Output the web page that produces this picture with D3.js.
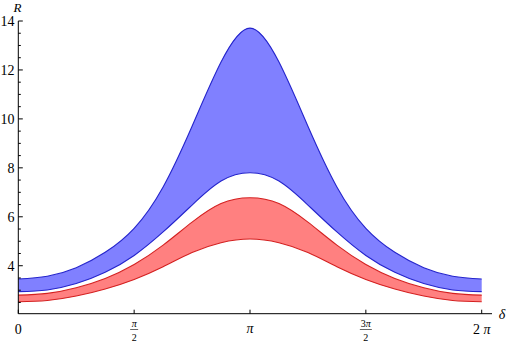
<!DOCTYPE html>
<html>
<head>
<meta charset="utf-8">
<script src="https://cdn.jsdelivr.net/npm/d3@7"></script>
<style>
  html, body { margin: 0; padding: 0; background: #fff; }
  svg { display: block; }
</style>
</head>
<body>
<svg id="chart" width="507" height="343"></svg>
<script>
// ---- data ----
// delta sample positions, in multiples of pi/8
const deltaSteps = [0, 1, 2, 3, 4, 5, 6, 7, 8, 9, 10, 11, 12, 13, 14, 15, 16];
const blueUpper = [3.46, 3.57, 3.92, 4.55, 5.53, 7.22, 9.70, 12.32, 13.71, 12.32, 9.70, 7.22, 5.53, 4.55, 3.92, 3.57, 3.46];
const blueLower = [2.94, 3.01, 3.27, 3.73, 4.42, 5.38, 6.48, 7.46, 7.80, 7.46, 6.48, 5.38, 4.42, 3.73, 3.27, 3.01, 2.94];
const redUpper  = [2.80, 2.87, 3.10, 3.48, 4.05, 4.84, 5.78, 6.54, 6.78, 6.54, 5.78, 4.84, 4.05, 3.48, 3.10, 2.87, 2.80];
const redLower  = [2.53, 2.58, 2.76, 3.05, 3.44, 3.96, 4.54, 4.94, 5.09, 4.94, 4.54, 3.96, 3.44, 3.05, 2.76, 2.58, 2.53];
const yTickValues = [4, 6, 8, 10, 12, 14];
const yMinorValues = [2.5, 3, 3.5, 4.5, 5, 5.5, 6.5, 7, 7.5, 8.5, 9, 9.5, 10.5, 11, 11.5, 12.5, 13, 13.5];
const xTickHalfPis = [0, 1, 2, 3, 4];
const xAxisLabel = "δ";
const yAxisLabel = "R";
const yAxisCross = 2.04;

const FONT = "'Liberation Serif', 'DejaVu Serif', 'Times New Roman', serif";

// ---- scales ----
const svg = d3.select("#chart");
const x = d3.scaleLinear().domain([0, 2 * Math.PI]).range([18.3, 481.7]);
const y = d3.scaleLinear().domain([yAxisCross, 14]).range([313.7, 21]);

const delta = deltaSteps.map(k => k * Math.PI / 8);

function band(upper, lower, fill, stroke) {
  const rows = delta.map((d, i) => ({ d, hi: upper[i], lo: lower[i] }));
  const curve = d3.curveNatural;
  svg.append("path").datum(rows)
    .attr("fill", fill)
    .attr("d", d3.area().x(r => x(r.d)).y0(r => y(r.lo)).y1(r => y(r.hi)).curve(curve));
  svg.append("path").datum(rows)
    .attr("fill", "none").attr("stroke", stroke).attr("stroke-width", 1.1)
    .attr("d", d3.line().x(r => x(r.d)).y(r => y(r.hi)).curve(curve));
  svg.append("path").datum(rows)
    .attr("fill", "none").attr("stroke", stroke).attr("stroke-width", 1.1)
    .attr("d", d3.line().x(r => x(r.d)).y(r => y(r.lo)).curve(curve));
}

band(blueUpper, blueLower, "#8080ff", "#2424cc");
band(redUpper, redLower, "#ff8080", "#d42020");

// ---- axes ----
const ax = svg.append("g").attr("stroke", "#000").attr("stroke-width", 1);
ax.append("line").attr("x1", x(0)).attr("x2", 492).attr("y1", y(yAxisCross)).attr("y2", y(yAxisCross));
ax.append("line").attr("x1", x(0)).attr("x2", x(0)).attr("y1", y(yAxisCross)).attr("y2", y(14));

function txt(px, py, size, anchor) {
  return svg.append("text").attr("x", px).attr("y", py).attr("font-family", FONT)
    .attr("font-size", size).attr("text-anchor", anchor || "middle").attr("fill", "#000");
}

// y ticks
yTickValues.forEach(v => {
  ax.append("line").attr("x1", x(0)).attr("x2", x(0) + 4.5).attr("y1", y(v)).attr("y2", y(v));
  txt(14.5, y(v), 14, "end").attr("dy", "0.35em").text(v);
});
yMinorValues.forEach(v => {
  ax.append("line").attr("x1", x(0)).attr("x2", x(0) + 2.5).attr("y1", y(v)).attr("y2", y(v));
});

// x ticks
xTickHalfPis.forEach(k => {
  const px = x(k * Math.PI / 2);
  ax.append("line").attr("x1", px).attr("x2", px).attr("y1", y(yAxisCross)).attr("y2", y(yAxisCross) - 4);
});

// x tick labels
const base = 334;
txt(x(0), base, 14).text("0");
function frac(cx, numParts, halfBar) {
  const t = txt(cx, 327, 10);
  numParts.forEach(p => t.append("tspan").attr("font-style", p.italic ? "italic" : "normal").text(p.t));
  svg.append("line").attr("x1", cx - halfBar).attr("x2", cx + halfBar)
    .attr("y1", 329.5).attr("y2", 329.5).attr("stroke", "#000").attr("stroke-width", 0.6);
  txt(cx, 340.5, 10).text("2");
}
frac(x(Math.PI / 2), [{ t: "π", italic: true }], 4);
frac(x(3 * Math.PI / 2), [{ t: "3", italic: false }, { t: "π", italic: true }], 6);
txt(x(Math.PI), base - 1, 14).attr("font-style", "italic").text("π");
const tp = txt(x(2 * Math.PI), base, 14);
tp.append("tspan").text("2 ");
tp.append("tspan").attr("font-style", "italic").text("π");

// axis labels
txt(502, 319, 14).attr("font-style", "italic").text(xAxisLabel);
txt(17.5, 11.5, 13).attr("font-style", "italic").text(yAxisLabel);
</script>
</body>
</html>
